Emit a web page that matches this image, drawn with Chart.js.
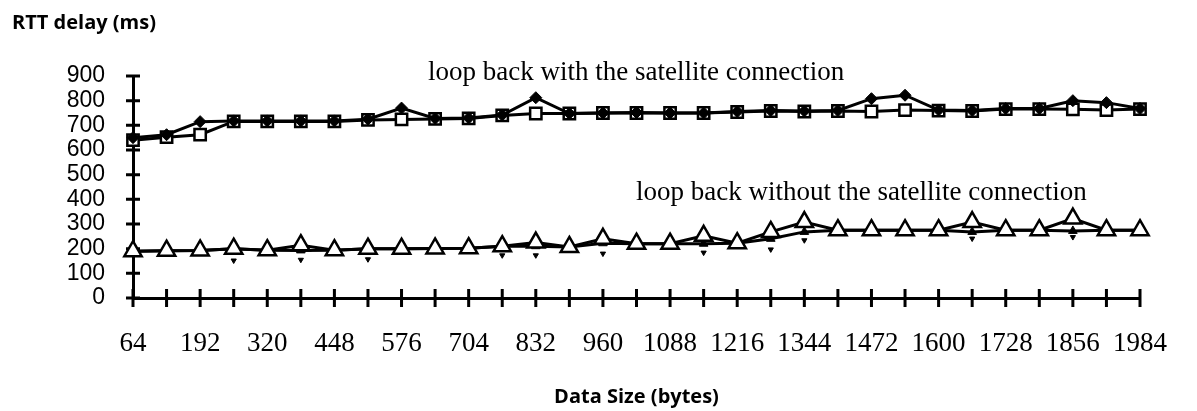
<!DOCTYPE html>
<html>
<head>
<meta charset="utf-8">
<script src="https://cdn.jsdelivr.net/npm/chart.js@4"></script>
<style>
    html, body { margin: 0; padding: 0; background: #fff; }
    #wrap { width: 1197px; height: 411px; position: relative; }
</style>
</head>
<body>
<div id="wrap"><canvas id="rttChart"></canvas></div>
<script>
// ----- DATA -----
const sizes = [64, 128, 192, 256, 320, 384, 448, 512, 576, 640, 704, 768, 832, 896, 960, 1024,
    1088, 1152, 1216, 1280, 1344, 1408, 1472, 1536, 1600, 1664, 1728, 1792, 1856, 1920, 1984];

// loop back with the satellite connection
const satDiamond = [650, 662, 715, 718, 718, 718, 718, 725, 770, 728, 730, 742, 812, 748, 750, 752,
    750, 750, 756, 760, 758, 760, 808, 822, 762, 760, 768, 768, 800, 792, 768];
const satSquare = [640, 652, 662, 716, 716, 716, 716, 722, 724, 726, 728, 740, 748, 748, 750, 750,
    750, 750, 754, 758, 756, 758, 756, 762, 760, 758, 766, 766, 765, 762, 766];

// loop back without the satellite connection
const noSatHollow = [190, 192, 193, 200, 194, 214, 194, 200, 200, 201, 202, 210, 225, 207, 240, 220,
    220, 252, 222, 268, 308, 275, 275, 275, 275, 308, 275, 275, 322, 275, 275];
const noSatFilled = [190, 192, 193, 200, 194, 193, 194, 200, 200, 201, 202, 210, 210, 207, 222, 220,
    220, 220, 222, 240, 268, 275, 275, 275, 275, 268, 275, 275, 272, 275, 275];
const noSatSmall = [null, null, null, 152, null, 155, null, 157, null, null, null, 173, 173, null, 180, null,
    null, 184, null, 197, 234, null, null, null, null, 241, null, null, 247, null, null];

const xTickLabels = [64, 192, 320, 448, 576, 704, 832, 960, 1088, 1216, 1344, 1472, 1600, 1728, 1856, 1984];
const yTickLabels = [0, 100, 200, 300, 400, 500, 600, 700, 800, 900];


// ----- TICK MARKS CROSSING THE AXES -----
const tickMarks = {
    id: "tickMarks",
    beforeDatasetsDraw(chart) {
        const ctx = chart.ctx;
        const x = chart.scales.x;
        const y = chart.scales.y;
        ctx.save();
        ctx.strokeStyle = "#000";
        ctx.lineWidth = 3;
        ctx.beginPath();
        sizes.forEach(v => {
            const px = x.getPixelForValue(v);
            ctx.moveTo(px, y.bottom - 9);
            ctx.lineTo(px, y.bottom + 9);
        });
        yTickLabels.forEach(v => {
            const py = y.getPixelForValue(v);
            ctx.moveTo(x.left - 7, py);
            ctx.lineTo(x.left + 7, py);
        });
        ctx.stroke();
        ctx.restore();
    }
};


// ----- TEXTS (title + annotations) -----
const texts = {
    id: "texts",
    afterDraw(chart) {
        const ctx = chart.ctx;
        ctx.save();
        ctx.fillStyle = "#000";
        ctx.textAlign = "left";

        ctx.font = "bold 20px 'Open Sans'";
        ctx.textBaseline = "middle";
        ctx.fillText("RTT delay (ms)", 12, 23);

        ctx.font = "27px 'Liberation Serif'";
        ctx.textBaseline = "alphabetic";
        ctx.fillText("loop back with the satellite connection", 428, 80);
        ctx.fillText("loop back without the satellite connection", 636, 200);
        ctx.restore();
    }
};


// ----- CHART -----
const line = (data, style, radius, fill, rotation) => ({
    data: data,
    borderColor: "#000",
    borderWidth: 3,
    pointStyle: style,
    pointRadius: radius,
    pointRotation: rotation || 0,
    pointBackgroundColor: fill,
    pointBorderColor: "#000",
    pointBorderWidth: fill === "#fff" ? 2.5 : 1,
    tension: 0,
    clip: false
});

const datasets = [
    line(satDiamond, "rectRot", 6, "#000"),
    line(satSquare, "rect", 8, "#fff"),
    line(noSatHollow, "triangle", 10, "#fff"),
    line(noSatFilled, "triangle", 5, "#000"),
    Object.assign(line(noSatSmall, "triangle", 3, "#000", 180), { showLine: false })
];

new Chart(document.getElementById("rttChart"), {
    type: "line",
    data: {
        labels: sizes,
        datasets: datasets.map(d => Object.assign(d, { data: d.data.map((v, i) => ({ x: sizes[i], y: v })) }))
    },
    options: {
        responsive: true,
        maintainAspectRatio: false,
        animation: false,
        layout: { padding: { top: 76, right: 45, left: 0, bottom: 0 } },
        plugins: { legend: { display: false }, tooltip: { enabled: false } },
        scales: {
            x: {
                type: "linear",
                min: 64,
                max: 1984,
                afterBuildTicks: s => { s.ticks = sizes.map(v => ({ value: v })); },
                afterFit: s => { s.height = 113; },
                grid: { display: false, drawTicks: false, tickLength: 0 },
                border: { display: true, color: "#000", width: 3 },
                ticks: {
                    autoSkip: false,
                    maxRotation: 0,
                    padding: 30,
                    color: "#000",
                    font: { family: "'Liberation Serif'", size: 27 },
                    callback: v => xTickLabels.includes(v) ? String(v) : ""
                },
                title: {
                    display: true,
                    text: "Data Size (bytes)",
                    color: "#000",
                    font: { family: "'Open Sans'", size: 20, weight: "bold" },
                    padding: { top: 2, bottom: 2 }
                }
            },
            y: {
                min: 0,
                max: 900,
                afterBuildTicks: s => { s.ticks = yTickLabels.map(v => ({ value: v })); },
                afterFit: s => { s.width = 133; },
                grid: { display: false, drawTicks: false, tickLength: 0 },
                border: { display: true, color: "#000", width: 3 },
                ticks: {
                    autoSkip: false,
                    padding: 28,
                    color: "#000",
                    font: { family: "'Liberation Sans'", size: 23 }
                }
            }
        }
    },
    plugins: [tickMarks, texts]
});
</script>
</body>
</html>
